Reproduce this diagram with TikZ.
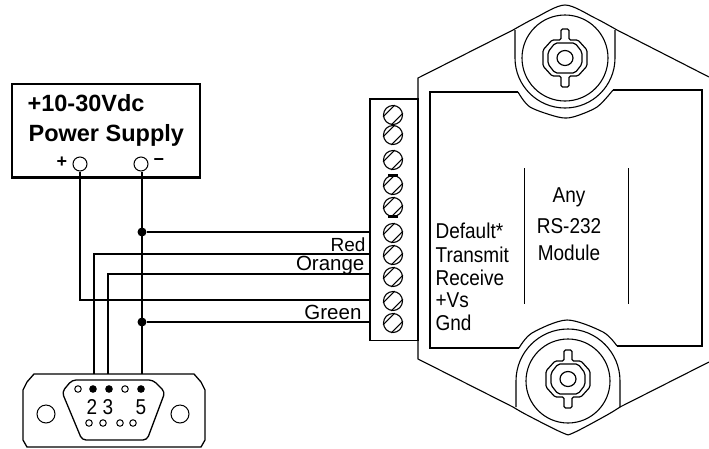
\documentclass[tikz,border=0pt]{standalone}
\usepackage{fontspec}
\setmainfont{Liberation Sans}
\usetikzlibrary{calc}
\newcommand{\knobshape}[1]{%
  \begin{scope}[shift={#1}]
    \draw[rounded corners=1.5pt] (-4,-29)--(4,-29)--(4,-18)--(13,-18)--(22,-8)--(22,8)--(13,18)--(4,18)--(4,29)--(-4,29)--(-4,18)--(-13,18)--(-22,8)--(-22,-8)--(-13,-18)--(-4,-18)--cycle;
    \draw[rounded corners=2pt] (-10,-15)--(10,-15)--(17,-6)--(17,6)--(10,15)--(-10,15)--(-17,6)--(-17,-6)--cycle;
    \draw (0,0) ellipse (8 and 7.5);
  \end{scope}}
\newcommand{\tall}[1]{\scalebox{1}[1.13]{#1}}
\tikzset{
  wire/.style={line width=1.3pt},
  thin part/.style={line width=1.1pt},
  dotj/.style={circle,fill=black,inner sep=0pt,minimum size=9pt},
  terminal/.style={circle,draw,fill=white,line width=1pt,inner sep=0pt,minimum size=14pt},
  screwnode/.style={circle,draw,line width=1.1pt,inner sep=0pt,minimum size=19pt},
  pin/.style={circle,draw,line width=1pt,inner sep=0pt,minimum size=6.5pt},
  pinfull/.style={pin,fill=black},
  label/.style={font=\fontsize{19}{19}\selectfont,inner sep=0pt,anchor=base west},
  rlabel/.style={font=\fontsize{19}{19}\selectfont,inner sep=0pt,anchor=base east},
  rlabelb/.style={font=\fontsize{20.5}{20.5}\selectfont,inner sep=0pt,anchor=base east},
  mid/.style={font=\fontsize{19}{19}\selectfont,inner sep=0pt,anchor=base},
  boldtext/.style={font=\fontsize{23.5}{23.5}\selectfont\bfseries,inner sep=0pt,anchor=base west},
}
\begin{document}
\begin{tikzpicture}[x=1pt,y=1pt,yscale=-1,line width=1.2pt]
\useasboundingbox (0,0) rectangle (709,448);
\clip (0,0) rectangle (709,448);
% power supply
\node[draw,wire,minimum width=188pt,minimum height=93pt,inner sep=0pt] (psu) at (106,130.5) {};
\draw[line width=3pt] (psu.south west)--(psu.south east);
\node[boldtext] (t1) at (27,111) {+10-30Vdc};
\node[boldtext] (t2) at (28,141) {Power Supply};
\node[terminal] (tp) at (80,164) {};
\node[terminal] (tm) at (141,164) {};
\node[font=\fontsize{18}{18}\selectfont\bfseries,inner sep=0pt] (lp) at (62,162.5) {+};
\node[font=\fontsize{18}{18}\selectfont\bfseries,inner sep=0pt] (lm) at (159,162) {\char"2212};
% terminal block
\node[draw,wire,minimum width=48pt,minimum height=241pt,inner sep=0pt] (blk) at (394,220) {};
\draw[line width=2.6pt] (blk.north west)--(blk.north east);
\foreach \n/\y in {1/115,2/135,3/160,4/185,5/207,6/233,7/255,8/277,9/301,10/323}{
  \node[screwnode] (s\n) at (393,\y) {};
  \draw[line width=1.1pt] (s\n.190)--(s\n.80);
  \draw[line width=1.1pt] (s\n.260)--(s\n.10);
}
\draw[line width=2.5pt] (388,175.5)--(398,175.5) (388,216.5)--(398,216.5);
% D connector
\coordinate (c1) at (94,374);
\coordinate (c2) at (108,374);
\coordinate (c3) at (142,374);
\draw[wire] (27,447)--(23,440)--(23,390)--(27,382)--(34,374)--(194,374)--(201,382)--(205,390)--(205,440)--(201,447)--cycle;
\draw[wire,rounded corners=4pt] (72,380)--(153,380)--(165,392)--(147,440)--(82,440)--(62,392)--cycle;
\node[terminal,minimum size=18pt] (h1) at (46,414) {};
\node[terminal,minimum size=18pt] (h2) at (180,414) {};
\node[pin] (p1) at (78,389) {};
\node[pinfull] (p2) at (93,389) {};
\node[pinfull] (p3) at (109,389) {};
\node[pin] (p4) at (125,389) {};
\node[pinfull] (p5) at (141,389) {};
\node[pin] (q1) at (89,423) {};
\node[pin] (q2) at (103,423) {};
\node[pin] (q3) at (120,423) {};
\node[pin] (q4) at (133,423) {};
\node[mid] (n2) at (92,414) {\tall{2}};
\node[mid] (n3) at (108,414) {\tall{3}};
\node[mid] (n5) at (141,414) {\tall{5}};
% wires
\coordinate (e1) at (blk.west |- 0,232);
\coordinate (e2) at (blk.west |- 0,254);
\coordinate (e3) at (blk.west |- 0,274);
\coordinate (e4) at (blk.west |- 0,300);
\coordinate (e5) at (blk.west |- 0,322);
\node[dotj] (j1) at (142,232) {};
\node[dotj] (j2) at (142,322) {};
\draw[wire] (tp)--(tp |- e4)--(e4);
\draw[wire] (tm.south -| c3)--(c3);
\draw[wire] (j1)--(e1);
\draw[wire] (j2)--(e5);
\draw[wire] (c1)--(c1 |- e2)--(e2);
\draw[wire] (c2)--(c2 |- e3)--(e3);
\node[rlabel] (r) at (366,251) {Red};
\node[rlabelb] (o) at (365,270.5) {Orange};
\node[rlabelb] (g) at (362,319) {Green};
% module
\draw[thin part] (418,100)--(418,78)--(513,30);
\draw[thin part] plot[smooth] coordinates {(513,30)(535,18)(565,5)(595,18)(617,30)};
\draw[thin part] (617,30)--(709,77);
\draw[thin part] (418,100)--(418,359)--(513,407);
\draw[thin part] plot[smooth] coordinates {(513,407)(527,415)(563,433)(573,433)(607,415)(620,407)};
\draw[thin part] (620,407)--(709,362);
\draw[thin part] (518,92)--(430,92)--(430,348)--(519,348);
\draw[thin part] plot[smooth] coordinates {(518,92)(530,107)(558,117)(573,117)(597,107)(613,90)};
\draw[thin part] (613,90)--(702,90)--(702,346)--(617,346);
\draw[thin part] plot[smooth] coordinates {(617,346)(603,332)(567,320)(532,333)(519,348)};
% top fixing
\draw[thin part] (565,58) circle (43);
\draw[thin part] (515,30)--(515,58) arc (180:0:50) --(615,30);
\knobshape{(565,58)}
% bottom fixing
\draw[thin part] (568,381) circle (42);
\draw[thin part] (516,407)--(516,381) arc (180:360:52) --(620,407);
\knobshape{(568,379)}
% module text
\node[label] (a1) at (435,238) {\tall{Default*}};
\node[label] (a2) at (435,262) {\tall{Transmit}};
\node[label] (a3) at (435,285) {\tall{Receive}};
\node[label] (a4) at (435,307) {\tall{+Vs}};
\node[label] (a5) at (435,330) {\tall{Gnd}};
\coordinate (v1) at (524.5,168);
\coordinate (v2) at (524.5,304);
\coordinate (v3) at (628.5,168);
\coordinate (v4) at (628.5,304);
\draw[thin part] (v1)--(v2) (v3)--(v4);
\node[mid] (m1) at (569,202) {\tall{Any}};
\node[mid] (m2) at (569,233) {\tall{RS-232}};
\node[mid] (m3) at (569,260) {\tall{Module}};
\end{tikzpicture}
\end{document}
